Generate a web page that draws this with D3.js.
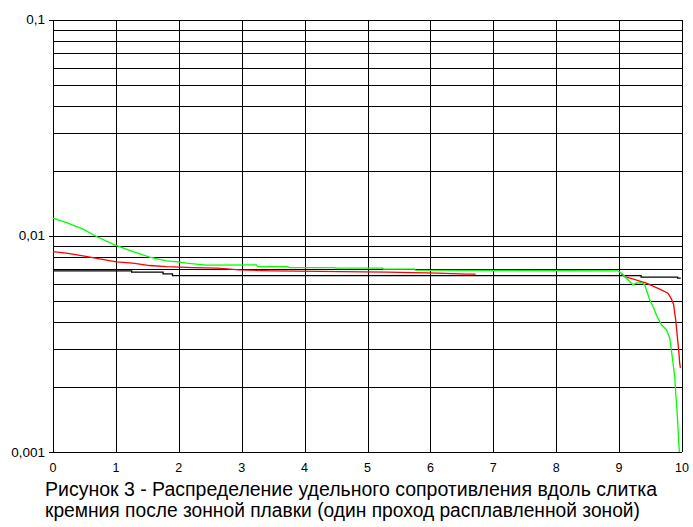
<!DOCTYPE html>
<html><head><meta charset="utf-8">
<script src="https://cdn.jsdelivr.net/npm/d3@7"></script>
<style>
html,body{margin:0;padding:0;background:#fff;}
svg{display:block;}
</style></head>
<body>
<script>
// ---- data ----
const xTicks = [0,1,2,3,4,5,6,7,8,9,10];
const yMajorTicks = [0.001, 0.01, 0.1];
const yTickLabels = ["0,001", "0,01", "0,1"];
const titleLines = [
  "Рисунок 3 - Распределение удельного сопротивления вдоль слитка",
  "кремния после зонной плавки (один проход расплавленной зоной)"
];
// black series (stepwise)
const blackX = [0, 1.25, 1.75, 1.9, 9.35, 9.93, 9.98];
const blackY = [0.00689, 0.0068, 0.00667, 0.00655, 0.00644, 0.00637, 0.00637];
// red series (null = gap, hidden under green)
const redX = [0, 0.213, 0.477, 0.742, 1.008, 1.272, 1.537, 1.803, 2.226, 2.598, 2.968, 3.5, 5.316, 6.116, 6.577, 6.72, 7.5,
  9.03, 9.089, 9.216, 9.327, 9.434, 9.645, 9.777, 9.831, 9.868, 9.884, 9.9, 9.92, 9.936, 9.952, 9.963, 9.975];
const redY = [0.00846, 0.00832, 0.00808, 0.00783, 0.00758, 0.00748, 0.00729, 0.00721, 0.00713, 0.00709, 0.00696, 0.00689, 0.0068, 0.00672, 0.00665, 0.00665, null,
  0.00672, 0.00648, 0.00633, 0.00618, 0.00604, 0.00567, 0.00543, 0.00511, 0.0048, 0.00439, 0.00409, 0.00355, 0.00319, 0.00287, 0.00258, 0.00245];
// green series
const greenX = [0, 0.213, 0.477, 0.69, 0.981, 1.272, 1.537, 1.803, 1.987, 2.121, 2.439, 3.234, 3.254, 3.73, 3.763, 4.479, 4.494, 5.242, 5.25, 5.75, 5.76, 8.98,
  9.036, 9.089, 9.142, 9.196, 9.221, 9.275, 9.354, 9.407, 9.434, 9.486, 9.539, 9.593, 9.672, 9.752, 9.804, 9.831, 9.857, 9.884, 9.9, 9.92, 9.936, 9.948, 9.959];
const greenY = [0.01207, 0.01152, 0.01074, 0.00993, 0.00909, 0.00846, 0.00797, 0.00766, 0.00758, 0.00748, 0.00732, 0.00734, 0.00721, 0.00721, 0.00713, 0.00713, 0.00709, 0.00709, 0.00702, 0.00702, 0.00694, 0.00689,
  0.00672, 0.00648, 0.00626, 0.00604, 0.00594, 0.00604, 0.00608, 0.00594, 0.00563, 0.00506, 0.00471, 0.00431, 0.00388, 0.00368, 0.00337, 0.00297, 0.00258, 0.00224, 0.00187, 0.00157, 0.00131, 0.0011, 0.001];

// ---- chart ----
const W = 693, H = 527;
const FONT = "Liberation Sans, Arial, sans-serif";
const svg = d3.select("body").append("svg").attr("width", W).attr("height", H);
const x = d3.scaleLinear().domain([0, 10]).range([53, 682]);
const y = d3.scaleLog().domain([0.001, 0.1]).range([452, 19.7]);
const px = v => Math.round(v) + 0.5;

// horizontal grid lines (1..9 per decade)
const gridVals = [];
for (const dec of [0.001, 0.01]) for (let k = 1; k <= 9; k++) gridVals.push(+(dec * k).toPrecision(3));
gridVals.push(0.1);
const g = svg.append("g").attr("stroke", "#000").attr("stroke-width", 1).attr("shape-rendering", "crispEdges");
g.selectAll("line.h").data(gridVals).join("line").attr("class", "h")
  .attr("x1", x(0)).attr("x2", x(10)).attr("y1", d => px(y(d))).attr("y2", d => px(y(d)));
g.selectAll("line.v").data(xTicks).join("line").attr("class", "v")
  .attr("x1", d => px(x(d))).attr("x2", d => px(x(d))).attr("y1", y(0.1)).attr("y2", y(0.001));
// y tick marks
g.selectAll("line.t").data(yMajorTicks).join("line").attr("class", "t")
  .attr("x1", x(0) - 4).attr("x2", x(0)).attr("y1", d => px(y(d))).attr("y2", d => px(y(d)));

// y labels
svg.append("g").selectAll("text").data(yMajorTicks).join("text")
  .attr("x", x(0) - 8).attr("y", d => y(d) + 4.5)
  .attr("text-anchor", "end")
  .attr("font-family", FONT)
  .attr("font-size", 13.5).attr("fill", "#000")
  .text((d, i) => yTickLabels[i]);

// x labels
svg.append("g").selectAll("text").data(xTicks).join("text")
  .attr("x", d => x(d)).attr("y", 472)
  .attr("text-anchor", "middle")
  .attr("font-family", FONT)
  .attr("font-size", 12.5).attr("fill", "#000")
  .text(d => d);

// series
function series(xs, ys, color, curve) {
  const pts = xs.map((v, i) => [v, ys[i]]);
  const line = d3.line().defined(d => d[1] != null).x(d => x(d[0])).y(d => y(d[1])).curve(curve || d3.curveLinear);
  svg.append("path").attr("d", line(pts)).attr("fill", "none").attr("stroke", color).attr("stroke-width", 1.3);
}
series(blackX, blackY, "#000", d3.curveStepAfter);
series(redX, redY, "#ff0000");
series(greenX, greenY, "#00ff00");

// title
svg.append("g").selectAll("text").data(titleLines).join("text")
  .attr("x", 45).attr("y", (d, i) => 496 + i * 21)
  .attr("font-family", FONT)
  .attr("font-size", 20).attr("fill", "#000")
  .attr("textLength", (d, i) => i === 0 ? 612 : 595)
  .attr("lengthAdjust", "spacingAndGlyphs")
  .text(d => d);
</script>
</body></html>
